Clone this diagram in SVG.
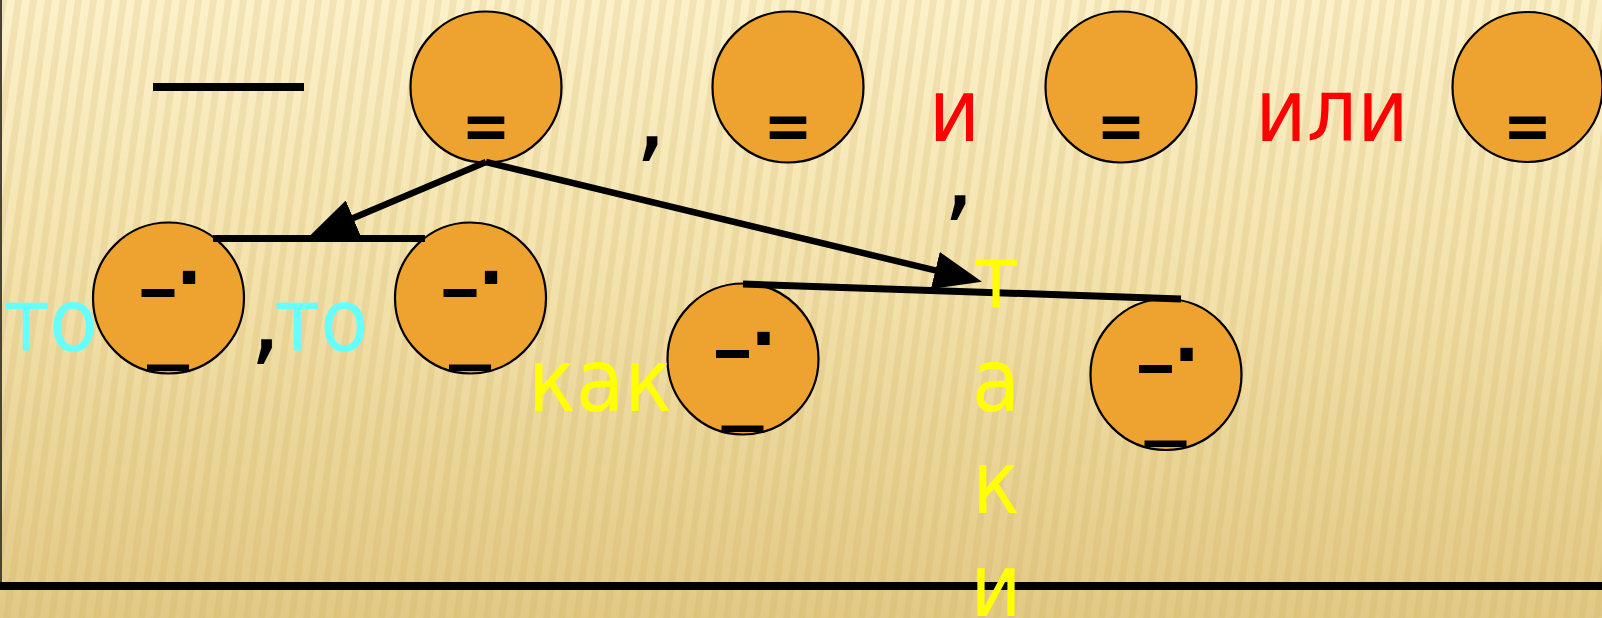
<svg xmlns="http://www.w3.org/2000/svg" width="1602" height="618" viewBox="0 0 1602 618">
<defs>
<linearGradient id="bg" x1="0" y1="0" x2="0" y2="1">
<stop offset="0" stop-color="#FCF1CA"/>
<stop offset="0.45" stop-color="#F3E2AC"/>
<stop offset="1" stop-color="#E2C985"/>
</linearGradient>
<pattern id="stripes" width="15" height="618" patternUnits="userSpaceOnUse" patternTransform="skewX(-8)">
<rect x="0" y="0" width="7" height="618" fill="#C8A556" opacity="0.18"/>
</pattern>
<marker id="ah" viewBox="0 0 48 38" refX="1" refY="19" markerWidth="48" markerHeight="38" markerUnits="userSpaceOnUse" orient="auto">
<path d="M0,0 L48,19 L0,38 z" fill="#000"/>
</marker>
<style>
.node circle{fill:#EEA22F;stroke:#000;stroke-width:2.2}
.mk{font-family:"DejaVu Sans","Liberation Sans",sans-serif;font-weight:bold;fill:#000;text-anchor:middle}
.eq{font-size:66px}
.dash{font-size:64px}
.dot{font-size:70px}
.us{font-size:72px}
.big{font-family:"DejaVu Sans Condensed","DejaVu Sans",sans-serif;font-stretch:condensed;font-size:88px;text-anchor:middle}
.red{fill:#FF0000}
.cyan{fill:#66FFFF}
.yel{fill:#FFFF00}
.comma{font-family:"DejaVu Sans",sans-serif;font-size:104px;fill:#000;text-anchor:middle}
.conn line{stroke:#000;stroke-width:6.5}
</style>
</defs>
<rect width="1602" height="618" fill="url(#bg)"/>
<rect width="1602" height="618" fill="url(#stripes)"/>
<line x1="1" y1="0" x2="1" y2="583" stroke="#4a4234" stroke-width="2"/>
<rect x="0" y="582" width="1602" height="8" fill="#000"/>

<g id="node-a" class="node" transform="translate(486,87)">
<circle r="75.5"/>
<text class="mk eq" x="0" y="62" textLength="49" lengthAdjust="spacingAndGlyphs">=</text>
</g>
<g id="node-b" class="node" transform="translate(788,87)">
<circle r="75.5"/>
<text class="mk eq" x="0" y="62" textLength="49" lengthAdjust="spacingAndGlyphs">=</text>
</g>
<g id="node-c" class="node" transform="translate(1121,87)">
<circle r="75.5"/>
<text class="mk eq" x="0" y="62" textLength="49" lengthAdjust="spacingAndGlyphs">=</text>
</g>
<g id="node-d" class="node" transform="translate(1527.5,87)">
<circle r="75"/>
<text class="mk eq" x="0" y="62" textLength="49" lengthAdjust="spacingAndGlyphs">=</text>
</g>

<g id="node-e" class="node" transform="translate(168.5,298)">
<circle r="75.5"/>
<text class="mk dash" x="-10.5" y="12.5" textLength="42" lengthAdjust="spacingAndGlyphs">–</text>
<text class="mk dot" x="20.5" y="-14">.</text>
<text class="mk us" x="-0.5" y="55.5" textLength="42" lengthAdjust="spacingAndGlyphs">_</text>
</g>
<g id="node-f" class="node" transform="translate(470.5,298)">
<circle r="75.5"/>
<text class="mk dash" x="-10.5" y="12.5" textLength="42" lengthAdjust="spacingAndGlyphs">–</text>
<text class="mk dot" x="20.5" y="-14">.</text>
<text class="mk us" x="-0.5" y="55.5" textLength="42" lengthAdjust="spacingAndGlyphs">_</text>
</g>
<g id="node-g" class="node" transform="translate(743,359)">
<circle r="75.5"/>
<text class="mk dash" x="-10.5" y="12.5" textLength="42" lengthAdjust="spacingAndGlyphs">–</text>
<text class="mk dot" x="20.5" y="-14">.</text>
<text class="mk us" x="-0.5" y="55.5" textLength="42" lengthAdjust="spacingAndGlyphs">_</text>
</g>
<g id="node-h" class="node" transform="translate(1166,374.5)">
<circle r="75.5"/>
<text class="mk dash" x="-10.5" y="12.5" textLength="42" lengthAdjust="spacingAndGlyphs">–</text>
<text class="mk dot" x="20.5" y="-14">.</text>
<text class="mk us" x="-0.5" y="55.5" textLength="42" lengthAdjust="spacingAndGlyphs">_</text>
</g>

<g id="connectors" class="conn">
<line x1="153" y1="87" x2="304" y2="87" style="stroke-width:8"/>
<line x1="213" y1="238.5" x2="425" y2="238.5" style="stroke-width:7"/>
<line x1="743" y1="284" x2="1181" y2="299" style="stroke-width:7"/>
<line x1="486" y1="162" x2="352.2" y2="218.4" marker-end="url(#ah)"/>
<line x1="486" y1="162" x2="936.3" y2="270.7" marker-end="url(#ah)"/>
</g>

<g id="labels">
<text class="comma" x="651" y="149">,</text>
<text class="comma" x="959" y="208">,</text>
<text class="comma" x="265.5" y="352">,</text>
<text class="big red" x="954.5" y="141">и</text>
<text class="big red" x="1332" y="141">или</text>
<text class="big cyan" x="50.5" y="351">то</text>
<text class="big cyan" x="321.5" y="351">то</text>
<text class="big yel" x="600" y="411">как</text>
<text class="big yel" x="996" y="308">т</text>
<text class="big yel" x="996" y="411">а</text>
<text class="big yel" x="996" y="513">к</text>
<text class="big yel" x="996" y="616">и</text>
</g>
</svg>
